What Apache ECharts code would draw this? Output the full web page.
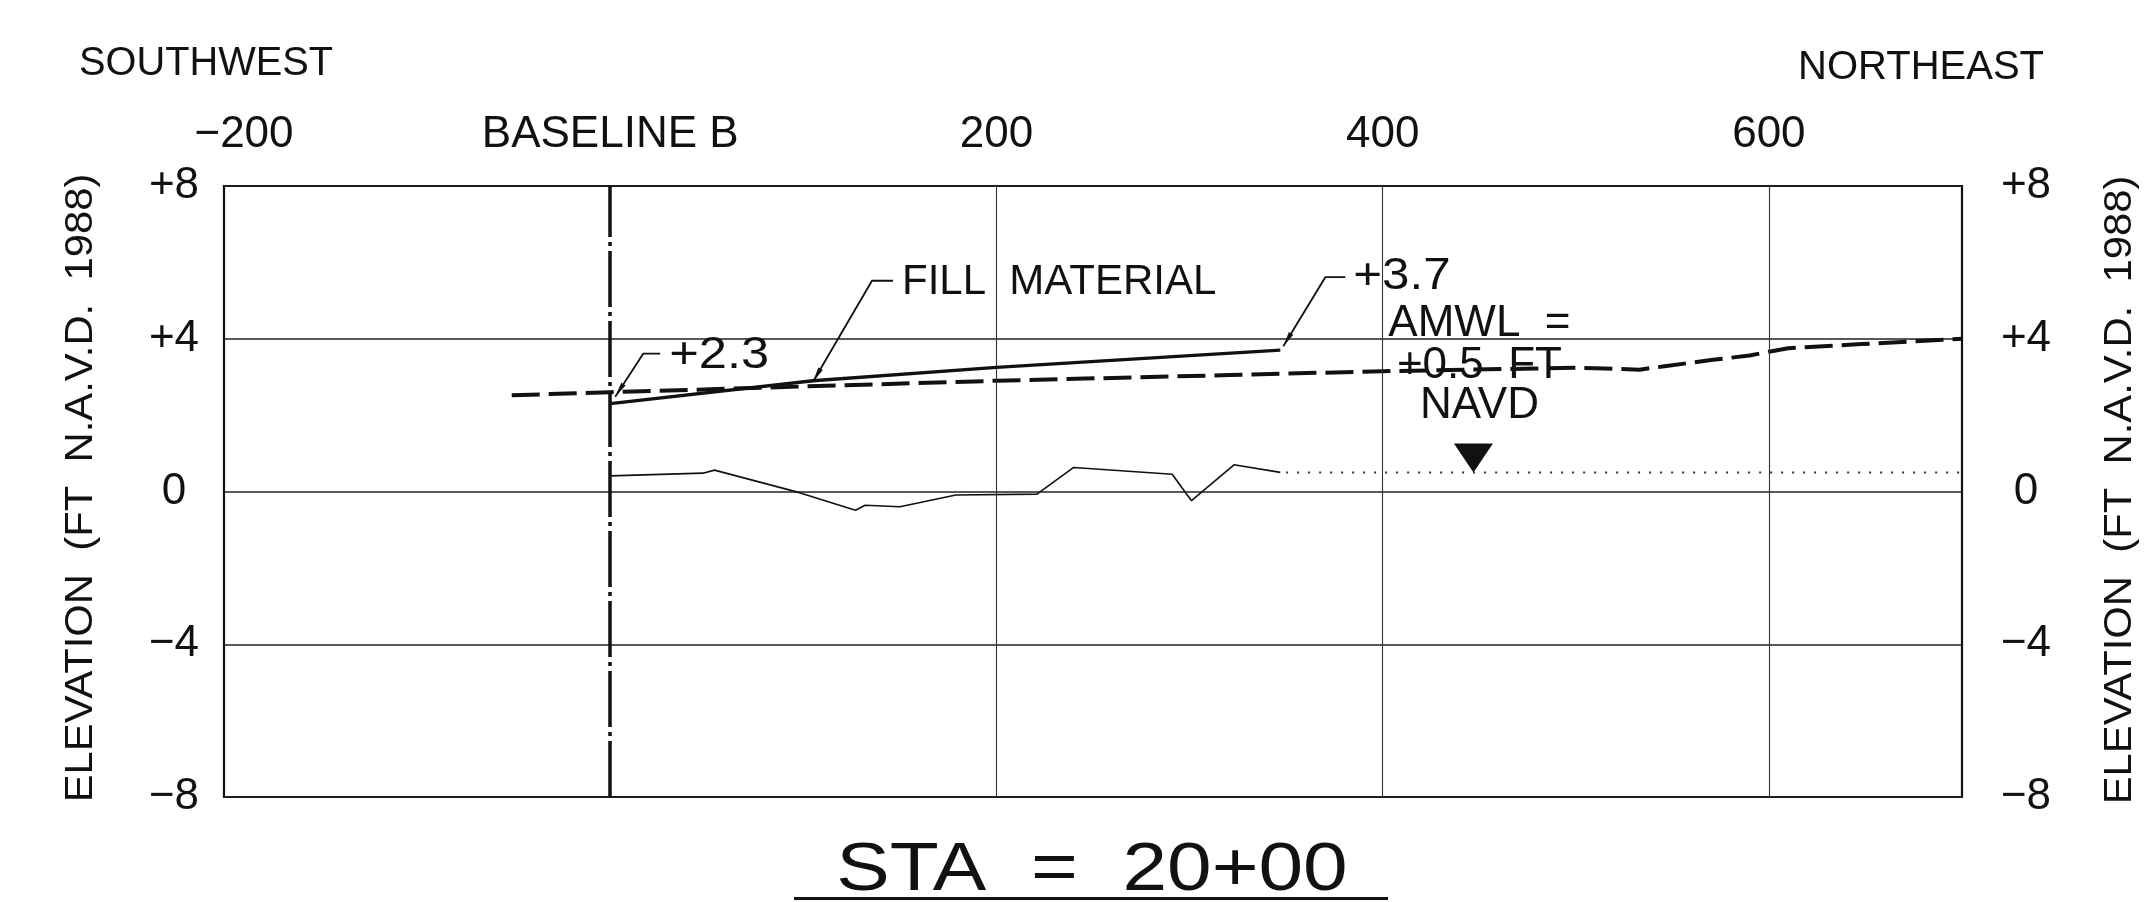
<!DOCTYPE html>
<html>
<head>
<meta charset="utf-8">
<script src="https://cdn.jsdelivr.net/npm/echarts@6/dist/echarts.min.js"></script>
<style>
  html, body { margin: 0; padding: 0; background: #ffffff; }
  #chart { width: 2147px; height: 902px; }
</style>
</head>
<body>
<div id="chart"></div>
<script>
// Beach cross-section at STA 20+00: station (ft) vs elevation (ft NAVD 1988)

const xTickValues = [-200, 0, 200, 400, 600];
const xTickLabels = ['−200', 'BASELINE B', '200', '400', '600'];
const yTickValues = [8, 4, 0, -4, -8];
const yTickLabels = ['+8', '+4', '0', '−4', '−8'];
const gridStations = [200, 400, 600];
const baselineStation = 0;

// design fill surface
const fillStation = [0, 105, 200, 347];
const fillElev = [2.3, 2.9, 3.25, 3.7];

// existing surface (dashed)
const existingStation = [-51, 0, 100, 200, 321, 400, 500, 515, 533, 546, 571, 590, 600, 610, 648, 700];
const existingElev = [2.52, 2.6, 2.75, 2.9, 3.05, 3.15, 3.24, 3.22, 3.19, 3.28, 3.45, 3.56, 3.66, 3.75, 3.86, 4.0];

// surveyed ground (thin)
const groundStation = [0, 48, 54, 98, 127, 132, 150, 179, 221, 240, 291, 301, 323, 347];
const groundElev = [0.41, 0.48, 0.56, -0.03, -0.49, -0.36, -0.40, -0.09, -0.07, 0.63, 0.45, -0.24, 0.70, 0.50];

// mean water level
const amwlStation = [350, 700];
const amwlElev = [0.5, 0.5];
const amwlMarkerStation = 447;
const amwlValue = 0.5;

const FONT = '"Liberation Sans", Arial, Helvetica, sans-serif';
const INK = '#111111';

const zip = (xs, ys) => xs.map((x, i) => [x, ys[i]]);

const chart = echarts.init(document.getElementById('chart'), null, { renderer: 'canvas' });

const axisLabelBase = { color: INK, fontFamily: FONT, fontSize: 44 };

function xLabel(v) {
  const i = xTickValues.indexOf(v);
  if (i < 0) return '';
  if (i === 0) return '{shift|' + xTickLabels[i] + '}';
  return xTickLabels[i];
}
function yLabel(v) {
  const i = yTickValues.indexOf(v);
  return i < 0 ? '' : yTickLabels[i];
}

const refLines = [
  { xAxis: baselineStation, lineStyle: { type: [56, 5, 4, 5], width: 3.5, color: INK } }
].concat(gridStations.map(s => ({ xAxis: s })));

chart.setOption({
  animation: false,
  backgroundColor: '#ffffff',
  grid: {
    left: 224, right: 185, top: 186, bottom: 105,
    show: true, borderColor: INK, borderWidth: 2.2,
    backgroundColor: 'transparent',
    outerBoundsMode: 'none'
  },
  xAxis: {
    type: 'value', position: 'top', min: -200, max: 700, interval: 200,
    axisLine: { show: false }, axisTick: { show: false },
    splitLine: { show: false },
    axisLabel: Object.assign({}, axisLabelBase, {
      margin: 29, formatter: xLabel, showMaxLabel: true,
      rich: { shift: Object.assign({}, axisLabelBase, { padding: [0, 0, 0, 40] }) }
    })
  },
  yAxis: [
    {
      type: 'value', position: 'left', min: -8, max: 8, interval: 4,
      axisLine: { show: false }, axisTick: { show: false },
      splitLine: { show: true, lineStyle: { color: '#222', width: 1.5 } },
      axisLabel: Object.assign({}, axisLabelBase, { margin: 50, align: 'center', formatter: yLabel })
    },
    {
      type: 'value', position: 'right', min: -8, max: 8, interval: 4,
      axisLine: { show: false }, axisTick: { show: false },
      splitLine: { show: false },
      axisLabel: Object.assign({}, axisLabelBase, { margin: 64, align: 'center', formatter: yLabel })
    }
  ],
  series: [
    {
      name: 'ground', type: 'line', data: zip(groundStation, groundElev),
      symbol: 'none', lineStyle: { color: INK, width: 1.6 }, z: 3,
      markLine: {
        silent: true, symbol: 'none', label: { show: false },
        lineStyle: { type: 'solid', color: '#333', width: 1.1 },
        data: refLines
      }
    },
    {
      name: 'amwl', type: 'line', data: zip(amwlStation, amwlElev),
      symbol: 'none', lineStyle: { color: '#333', width: 2, type: [2, 9] }, z: 3
    },
    {
      name: 'existing', type: 'line', data: zip(existingStation, existingElev),
      symbol: 'none', lineStyle: { color: INK, width: 4, type: [28, 9] }, z: 4
    },
    {
      name: 'fill', type: 'line', data: zip(fillStation, fillElev),
      symbol: 'none', lineStyle: { color: INK, width: 3.3 }, z: 5
    },
    {
      name: 'amwlMarker', type: 'scatter', data: [[amwlMarkerStation, amwlValue]],
      symbol: 'path://M0,0 L2,0 L1,2 Z', symbolKeepAspect: false,
      symbolSize: [39, 29], symbolOffset: [0, -14.5],
      itemStyle: { color: INK, opacity: 1 }, z: 6
    }
  ]
});

// annotations anchored on data points
const px = (x, y) => chart.convertToPixel({ gridIndex: 0 }, [x, y]);

function leader(anchor, tipOff, elbowOff, endOff) {
  const T = [anchor[0] + tipOff[0], anchor[1] + tipOff[1]];
  const E = [anchor[0] + elbowOff[0], anchor[1] + elbowOff[1]];
  const N = [anchor[0] + endOff[0], anchor[1] + endOff[1]];
  const dx = E[0] - T[0], dy = E[1] - T[1];
  const len = Math.hypot(dx, dy);
  const ux = dx / len, uy = dy / len;
  const nx = -uy, ny = ux;
  const L = 15, w = 2.6;
  return [
    { type: 'polyline', shape: { points: [T, E, N] }, style: { stroke: INK, lineWidth: 1.8, fill: null }, z: 10 },
    { type: 'polygon', shape: { points: [
        T,
        [T[0] + ux * L + nx * w, T[1] + uy * L + ny * w],
        [T[0] + ux * L - nx * w, T[1] + uy * L - ny * w]
      ] }, style: { fill: INK }, z: 10 }
  ];
}
function label(text, x, y, size, align, sx) {
  return { type: 'text', x: x, y: y, z: 11, scaleX: sx || 1,
    style: { text: text, fill: INK, font: size + 'px ' + FONT, align: align || 'left', verticalAlign: 'middle' } };
}
function vlabel(text, x, y, size, sx) {
  return { type: 'text', x: x, y: y, rotation: Math.PI / 2, scaleX: sx || 1, z: 11,
    style: { text: text, fill: INK, font: size + 'px ' + FONT, align: 'center', verticalAlign: 'middle' } };
}

const A = px(fillStation[0], fillElev[0]);
const B = px(fillStation[1], fillElev[1]);
const C = px(fillStation[fillStation.length - 1], fillElev[fillElev.length - 1]);
const D = px(amwlMarkerStation, amwlValue);

const graphics = []
  .concat(leader(A, [5, -7], [33, -50], [50, -50]))
  .concat([label('+' + fillElev[0].toFixed(1), A[0] + 59, A[1] - 48, 44, 'left', 1.15)])
  .concat(leader(B, [0, 1], [59, -100], [80, -100]))
  .concat([label('FILL  MATERIAL', B[0] + 89, B[1] - 98, 42)])
  .concat(leader(C, [3, -4], [45, -73], [65, -73]))
  .concat([label('+' + fillElev[fillElev.length - 1].toFixed(1), C[0] + 73, C[1] - 73, 44, 'left', 1.12)])
  .concat([
    label('AMWL  =', D[0] + 6, D[1] - 149, 44, 'center'),
    label('+' + amwlValue.toFixed(1) + '  FT', D[0] + 6, D[1] - 107, 44, 'center'),
    label('NAVD', D[0] + 6, D[1] - 67, 44, 'center')
  ])
  .concat([
    label('SOUTHWEST', 79, 64, 41, 'left', 0.97),
    label('NORTHEAST', 2044, 68, 40, 'right'),
    vlabel('ELEVATION  (FT  N.A.V.D.  1988)', 82, 488, 38, 1.1),
    vlabel('ELEVATION  (FT  N.A.V.D.  1988)', 2121, 490, 38, 1.1),
    label('STA  =  20+00', 1092, 871, 68, 'center', 1.18),
    { type: 'rect', shape: { x: 794, y: 897, width: 594, height: 3 }, style: { fill: INK }, z: 11 }
  ]);

chart.setOption({ graphic: graphics });
</script>
</body>
</html>
